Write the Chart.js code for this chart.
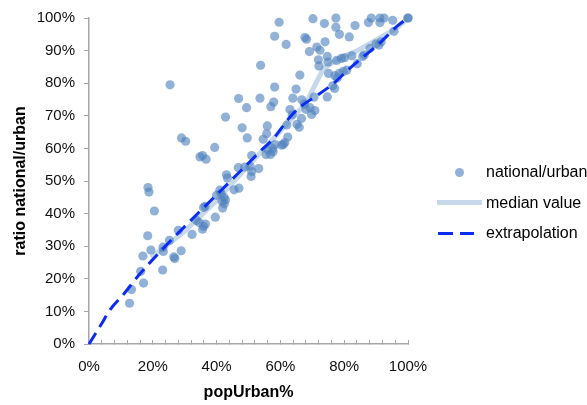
<!DOCTYPE html>
<html>
<head>
<meta charset="utf-8">
<title>ratio national/urban vs popUrban%</title>
<script src="https://cdn.jsdelivr.net/npm/chart.js@4.4.1/dist/chart.umd.min.js"></script>
<style>
  html, body { margin: 0; padding: 0; background: #fff; overflow: hidden; }
  #wrap { position: relative; width: 587px; height: 405px; overflow: hidden; }
  #legend { position: absolute; left: 437px; top: 162px; font: 16px "Liberation Sans", Arial, sans-serif; color: #000; }
  .item { position: relative; height: 30.5px; white-space: nowrap; }
  .item .label { position: absolute; left: 49px; top: 0; line-height: 20px; }
  .swatch { position: absolute; }
  .swatch.dot { left: 17.5px; top: 5.5px; width: 9px; height: 9px; border-radius: 50%; }
  .swatch.line { left: 0; top: 7.5px; width: 45px; height: 5px; }
  .swatch.dash { left: 1px; top: 8.5px; width: 36px; height: 3px; }
</style>
</head>
<body>
<div id="wrap">
  <canvas id="chart" width="587" height="405"></canvas>
  <div id="legend"></div>
</div>
<script>
// share of urban population (%) per country
const popUrban = [
  12.7, 13.3, 16.2, 17.1, 16.9, 19.4, 18.4, 20.5, 18.5, 18.8,
  23.1, 23.2, 23.3, 25.2, 26.6, 26.9, 28.9, 28.0, 32.3, 33.7,
  34.5, 35.6, 35.9, 36.5, 35.9, 36.4, 39.6, 40.0, 41.0, 41.4,
  42.3, 42.8, 41.7, 42.4, 41.9, 45.5, 47.0, 43.1, 43.4,
  25.4, 29.0, 30.3, 34.8, 35.6, 36.7, 39.4, 42.8, 46.9, 49.4, 48.0, 49.6,
  46.8, 48.8, 50.5, 53.2, 51.0, 50.8, 51.0, 55.5, 56.2, 56.9,
  57.6, 57.7, 58.3, 60.4, 60.9, 61.4, 62.3, 54.6, 55.9, 55.7,
  62.0, 65.2, 65.9, 63.0, 63.7,
  66.7, 67.5, 66.6, 68.0, 69.3, 69.8, 70.8, 70.5, 74.7, 63.9,
  57.0, 57.9, 53.6, 58.2, 64.9, 66.1, 53.8, 58.2, 59.6, 61.8,
  67.7, 68.2, 70.2, 73.8, 77.4, 77.4, 78.5, 83.4, 81.6, 69.1,
  71.4, 72.4, 74.0, 74.7, 74.9, 71.9, 72.1, 77.6, 79.1, 80.1,
  82.4, 85.8, 84.1, 75.1, 77.1, 77.8, 78.5, 79.7, 80.8, 76.4,
  77.0, 88.1, 90.0, 91.6, 90.9, 95.6, 95.2, 87.6, 91.2, 88.5,
  91.2, 92.5, 100, 100, 86.3
];

// national / urban ratio (%) for the same countries
const ratioNationalUrban = [
  12.5, 16.7, 22.3, 18.7, 27.0, 28.8, 33.2, 40.8, 48.0, 46.6,
  22.7, 29.7, 28.4, 31.8, 26.7, 26.2, 28.6, 34.9, 33.6, 37.9,
  37.3, 35.2, 36.1, 36.8, 41.9, 42.2, 38.9, 45.6, 47.2, 46.2,
  45.0, 44.2, 43.8, 43.0, 41.7, 47.3, 47.8, 51.9, 50.9,
  79.5, 63.2, 62.2, 57.4, 57.8, 56.7, 60.3, 69.6, 75.3, 72.5, 66.3, 63.2,
  54.1, 54.3, 54.5, 53.8, 52.9, 51.4, 57.8, 58.1, 59.5, 58.1,
  60.0, 59.0, 61.2, 61.0, 61.2, 61.8, 63.5, 62.8, 66.9, 64.5,
  67.2, 67.4, 66.5, 71.9, 70.3,
  74.9, 73.6, 69.2, 72.0, 72.5, 70.4, 71.6, 75.7, 75.8, 75.4,
  72.8, 74.2, 75.4, 78.8, 78.2, 82.5, 85.5, 94.4, 98.7, 91.9,
  94.0, 93.5, 99.8, 98.3, 100, 97.2, 95.0, 97.7, 94.2, 89.7,
  91.1, 90.1, 92.7, 88.2, 86.5, 87.2, 85.3, 87.0, 87.6, 87.8,
  88.4, 88.2, 86.0, 83.0, 82.3, 81.6, 83.0, 83.6, 84.0, 79.2,
  78.4, 90.7, 92.1, 92.7, 91.7, 95.9, 99.3, 98.6, 98.6, 100,
  100, 100, 100, 100, 88.7
];

// median curve
const medianX = [19.5, 30, 40, 47.3, 55, 62, 68, 73.4, 78.7, 84, 90.6, 96.5, 100];
const medianY = [26.5, 34.6, 44, 51.9, 60, 67.5, 73.8, 84.4, 87.8, 89.9, 93.6, 97, 100];

// extrapolated curve through the origin
const extrapX = [0, 4, 6.6, 10.8, 15.5, 19.6, 27, 31.7, 39, 46.3, 53.6, 57.8, 63, 66.7, 71.6, 76.5, 82, 86.5, 91, 96.5, 100];
const extrapY = [0, 6.3, 10.5, 15.2, 21, 25.5, 33.1, 37.7, 44.8, 51.9, 59, 63, 69.6, 73.1, 76.3, 79.8, 84.8, 88.5, 92.2, 97.4, 100];

// axis ticks
const xLabelled = [0, 20, 40, 60, 80, 100];
const xMinorStep = 4;
const yStep = 10;

const POINT_COLOR = 'rgba(79, 129, 189, 0.62)';
const MEDIAN_COLOR = '#c6d8ea';
const EXTRAP_COLOR = '#0a2cf5';
const AXIS_COLOR = '#a6a6a6';
const FONT = '"Liberation Sans", Arial, Helvetica, sans-serif';

const toXY = (xs, ys) => xs.map((x, i) => ({ x: x, y: ys[i] }));

Chart.defaults.font.family = FONT;
Chart.defaults.color = '#111';

const chart = new Chart(document.querySelector('#chart'), {
  type: 'scatter',
  data: {
    datasets: [
      {
        label: 'national/urban',
        data: toXY(popUrban, ratioNationalUrban),
        backgroundColor: POINT_COLOR,
        borderWidth: 0,
        pointRadius: 4.6,
        pointHoverRadius: 4.6,
        clip: false,
        order: 2
      },
      {
        label: 'median value',
        data: toXY(medianX, medianY),
        showLine: true,
        borderColor: MEDIAN_COLOR,
        borderWidth: 5,
        borderJoinStyle: 'round',
        pointRadius: 0,
        clip: false,
        order: 3
      },
      {
        label: 'extrapolation',
        data: toXY(extrapX, extrapY),
        showLine: true,
        borderColor: EXTRAP_COLOR,
        borderWidth: 3,
        borderDash: [13, 7],
        cubicInterpolationMode: 'monotone',
        pointRadius: 0,
        clip: false,
        order: 1
      }
    ]
  },
  options: {
    responsive: false,
    animation: false,
    devicePixelRatio: 1,
    layout: { padding: { left: 0, top: 15, right: 179, bottom: 0 } },
    plugins: { legend: { display: false }, tooltip: { enabled: false } },
    scales: {
      x: {
        type: 'linear',
        min: 0,
        max: 100,
        afterFit: (scale) => { scale.height = 61; },
        grid: { drawOnChartArea: false, tickLength: -4, color: AXIS_COLOR, lineWidth: 1 },
        border: { color: AXIS_COLOR, width: 1.5 },
        ticks: {
          stepSize: xMinorStep,
          autoSkip: false,
          maxRotation: 0,
          padding: 18,
          font: { size: 15 },
          callback: (v) => xLabelled.includes(Math.round(v)) ? Math.round(v) + '%' : ''
        },
        title: {
          display: true,
          text: 'popUrban%',
          color: '#000',
          font: { size: 16, weight: 'bold' },
          padding: { top: 0, bottom: 3 }
        }
      },
      y: {
        type: 'linear',
        min: 0,
        max: 100,
        afterFit: (scale) => { scale.width = 89; },
        grid: { drawOnChartArea: false, tickLength: 5, color: AXIS_COLOR, lineWidth: 1 },
        border: { color: AXIS_COLOR, width: 1.5 },
        ticks: {
          stepSize: yStep,
          padding: 9,
          font: { size: 15 },
          callback: (v) => v + '%'
        },
        title: {
          display: true,
          text: 'ratio national/urban',
          color: '#000',
          font: { size: 16, weight: 'bold' },
          padding: { top: 11, bottom: 0 }
        }
      }
    }
  }
});

// --- legend on the right ---
const legendEl = document.querySelector('#legend');
const swatchKinds = ['dot', 'line', 'dash'];

chart.data.datasets.forEach((ds, i) => {
  const item = document.createElement('div');
  item.className = 'item';

  const swatch = document.createElement('span');
  swatch.className = 'swatch ' + swatchKinds[i];
  if (swatchKinds[i] === 'dot') {
    swatch.style.background = ds.backgroundColor;
  } else if (swatchKinds[i] === 'line') {
    swatch.style.background = ds.borderColor;
  } else {
    swatch.style.background = `repeating-linear-gradient(90deg, ${ds.borderColor} 0 15px, transparent 15px 22px)`;
  }

  const label = document.createElement('span');
  label.className = 'label';
  label.textContent = ds.label;

  item.appendChild(swatch);
  item.appendChild(label);
  legendEl.appendChild(item);
});
</script>
</body>
</html>
